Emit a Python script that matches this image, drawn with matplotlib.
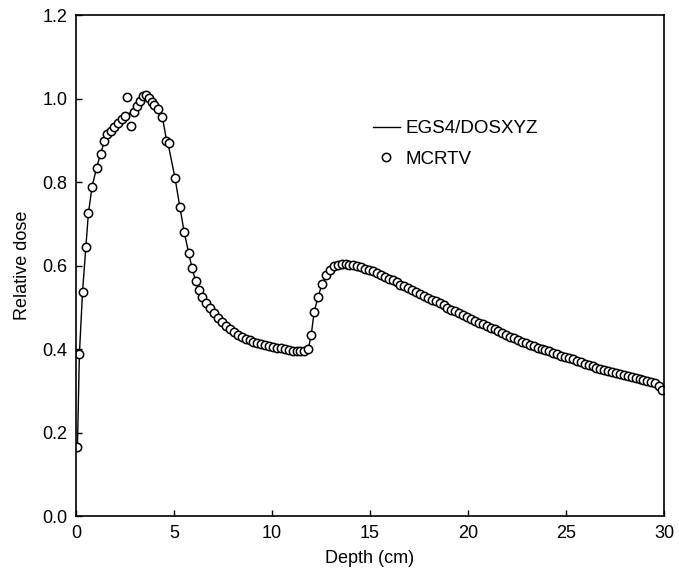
import matplotlib
matplotlib.use("Agg")
import matplotlib.pyplot as plt

plt.rcParams['font.family'] = ['Liberation Sans', 'DejaVu Sans']

# MCRTV points (depth in cm, relative dose)
mcrtv_depth = [
    0.07, 0.17, 0.33, 0.5, 0.63, 0.82, 1.05, 1.25, 1.45, 1.6, 1.78, 1.95, 2.15, 2.33, 2.5,
    2.6, 2.8, 2.95, 3.1, 3.25, 3.4, 3.55, 3.7, 3.85, 4.0, 4.2, 4.4, 4.6, 4.75, 5.05,
    5.3, 5.52, 5.75, 5.92, 6.1, 6.28, 6.45, 6.65, 6.85, 7.05, 7.25, 7.45, 7.65, 7.85, 8.05,
    8.25, 8.45, 8.65, 8.85, 9.05, 9.25, 9.45, 9.65, 9.85, 10.05, 10.25, 10.45, 10.65, 10.85, 11.05,
    11.25, 11.45, 11.65, 11.85, 12.0, 12.15, 12.35, 12.55, 12.75, 12.95, 13.15, 13.35, 13.55, 13.75, 13.95,
    14.15, 14.35, 14.55, 14.75, 14.95, 15.15, 15.35, 15.55, 15.75, 15.95, 16.15, 16.35, 16.55, 16.75, 16.95,
    17.15, 17.35, 17.55, 17.75, 17.95, 18.15, 18.35, 18.55, 18.75, 18.95, 19.15, 19.35, 19.55, 19.75, 19.95,
    20.15, 20.35, 20.55, 20.75, 20.95, 21.15, 21.35, 21.55, 21.75, 21.95, 22.15, 22.35, 22.55, 22.75, 22.95,
    23.15, 23.35, 23.55, 23.75, 23.95, 24.15, 24.35, 24.55, 24.75, 24.95, 25.15, 25.35, 25.55, 25.75, 25.95,
    26.15, 26.35, 26.55, 26.75, 26.95, 27.15, 27.35, 27.55, 27.75, 27.95, 28.15, 28.35, 28.55, 28.75, 28.95,
    29.15, 29.35, 29.55, 29.75, 29.9,
]
mcrtv_dose = [
    0.165, 0.388, 0.537, 0.645, 0.726, 0.79, 0.835, 0.869, 0.898, 0.916, 0.924, 0.932, 0.942, 0.951, 0.959,
    1.004, 0.936, 0.968, 0.984, 0.996, 1.006, 1.009, 1.002, 0.993, 0.986, 0.976, 0.957, 0.9, 0.894, 0.81,
    0.74, 0.68, 0.63, 0.594, 0.564, 0.542, 0.526, 0.511, 0.498, 0.486, 0.475, 0.465, 0.456, 0.448, 0.441,
    0.435, 0.43, 0.425, 0.421, 0.418, 0.415, 0.412, 0.41, 0.408, 0.406, 0.404, 0.402, 0.4, 0.398, 0.397,
    0.396, 0.395, 0.395, 0.4, 0.435, 0.49, 0.526, 0.556, 0.577, 0.591, 0.599, 0.603, 0.605, 0.605, 0.603,
    0.601, 0.599, 0.596, 0.593, 0.591, 0.587, 0.583, 0.579, 0.574, 0.569, 0.565, 0.56, 0.555, 0.551, 0.546,
    0.542, 0.537, 0.533, 0.528, 0.523, 0.519, 0.515, 0.511, 0.506, 0.5, 0.495, 0.491, 0.486, 0.482, 0.477,
    0.473, 0.468, 0.464, 0.46, 0.456, 0.452, 0.448, 0.444, 0.44, 0.435, 0.43, 0.426, 0.421, 0.418, 0.414,
    0.411, 0.408, 0.404, 0.401, 0.398, 0.395, 0.392, 0.388, 0.385, 0.382, 0.379, 0.376, 0.372, 0.369, 0.365,
    0.362, 0.359, 0.355, 0.352, 0.35, 0.348, 0.346, 0.343, 0.341, 0.338, 0.336, 0.334, 0.331, 0.329, 0.327,
    0.325, 0.322, 0.319, 0.313, 0.303,
]

# EGS4/DOSXYZ curve
egs_depth = [
    0.07, 0.17, 0.33, 0.5, 0.63, 0.82, 1.05, 1.25, 1.45, 1.78, 2.15, 2.5, 2.95, 3.25, 3.55,
    3.85, 4.2, 4.4, 4.6, 4.75, 5.05, 5.3, 5.52, 5.75, 5.92, 6.1, 6.45, 6.85, 7.25, 7.65,
    8.05, 8.65, 9.25, 10.05, 10.85, 11.45, 11.75, 11.85, 12.0, 12.15, 12.35, 12.55, 12.75, 12.95, 13.15,
    13.55, 13.95, 14.5, 15.5, 16.5, 17.5, 18.5, 19.5, 20.5, 21.5, 22.5, 23.5, 24.5, 25.5, 26.5,
    27.5, 28.5, 29.5, 29.9,
]
egs_dose = [
    0.165, 0.388, 0.537, 0.645, 0.726, 0.79, 0.835, 0.869, 0.898, 0.924, 0.942, 0.959, 0.972, 0.993, 1.005,
    0.993, 0.976, 0.957, 0.905, 0.88, 0.81, 0.74, 0.68, 0.63, 0.594, 0.564, 0.526, 0.498, 0.475, 0.456,
    0.441, 0.425, 0.415, 0.406, 0.398, 0.395, 0.396, 0.4, 0.435, 0.49, 0.526, 0.556, 0.577, 0.591, 0.599,
    0.605, 0.603, 0.597, 0.58, 0.556, 0.534, 0.512, 0.487, 0.465, 0.445, 0.422, 0.405, 0.389, 0.373, 0.356,
    0.344, 0.332, 0.32, 0.303,
]

fig = plt.figure(figsize=(6.79, 5.71), dpi=100)
ax = fig.add_axes([0.112, 0.096, 0.866, 0.877])

ax.plot(egs_depth, egs_dose, color='black', linewidth=1.0, label='EGS4/DOSXYZ')
ax.plot(mcrtv_depth, mcrtv_dose, linestyle='none', marker='o', markersize=6,
        markerfacecolor='white', markeredgecolor='black', markeredgewidth=1.1,
        label='MCRTV')

ax.set_xlim(0, 30)
ax.set_ylim(0, 1.2)
ax.set_xticks([0, 5, 10, 15, 20, 25, 30])
ax.set_yticks([0.0, 0.2, 0.4, 0.6, 0.8, 1.0, 1.2])
ax.set_yticklabels(['0.0', '0.2', '0.4', '0.6', '0.8', '1.0', '1.2'])
ax.tick_params(direction='in', length=4, width=1, labelsize=13, pad=6)
ax.tick_params(top=False, right=False)
for s in ax.spines.values():
    s.set_linewidth(1.2)

ax.set_xlabel('Depth (cm)', fontsize=13, labelpad=6)
ax.set_ylabel('Relative dose', fontsize=13, labelpad=8)

ax.legend(loc='upper left', bbox_to_anchor=(0.492, 0.806), borderaxespad=0,
          frameon=False, fontsize=13.5, handlelength=1.45, handletextpad=0.3,
          labelspacing=0.72)

fig.savefig('out.png', dpi=100)
